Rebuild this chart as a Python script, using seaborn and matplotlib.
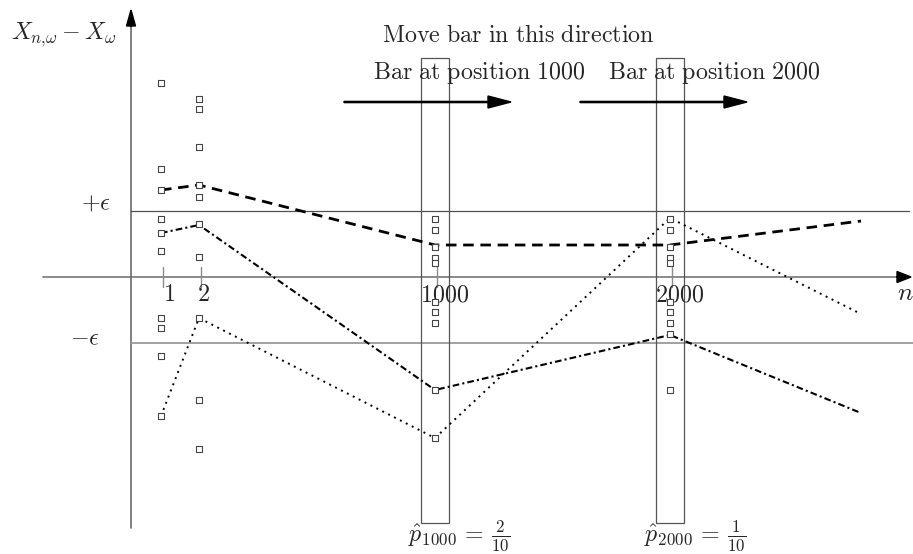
import numpy as np
import pandas as pd
import matplotlib
matplotlib.use("Agg")
import matplotlib.pyplot as plt
from matplotlib.patches import Rectangle, FancyArrow
import seaborn as sns

# ---- schematic data -------------------------------------------------------
# horizontal position of each sampled n on the (non-linear) schematic n-axis
n_labels = ["1", "2", "1000", "2000"]
n_pos = [30, 68, 304, 539]

# ten realisations of X_{n,w} - X_w at each n
samples_n1 = [194, 108, 87, 58, 44, 26, -41, -51, -79, -139]
samples_n2 = [178, 168, 130, 92, 80, 53, 20, -41, -123, -172]
samples_n1000 = [58, 47, 30, 19, 14, -25, -35, -46, -113, -161]
samples_n2000 = [58, 47, 30, 19, 14, -25, -35, -46, -57, -113]

# three sample paths followed through n = 1, 2, 1000, 2000 and beyond
path_x = [30, 68, 304, 539, 730]
path_dashed = [87, 92, 32, 32, 56]
path_dashdot = [44, 52, -113, -58, -136]
path_dotted = [-139, -41, -161, 59, -37]

eps = 66
bar_ns = ["1000", "2000"]
bar_halfwidth = 14

# ---- figure ---------------------------------------------------------------
sns.set_theme(style="white")
plt.rcParams["mathtext.fontset"] = "cm"
plt.rcParams["font.family"] = ["DejaVu Sans"]

fig = plt.figure(figsize=(9.13, 5.54), dpi=100)
ax = fig.add_axes([0, 0, 1, 1])
ax.set_xlim(-131, 782)
ax.set_ylim(-277, 277)
ax.axis("off")

FS = 17.3
axis_col = "#8a8a8a"

# coordinate axes
ax.plot([-88, 772], [0, 0], color=axis_col, lw=1.4, zorder=1)
ax.add_patch(FancyArrow(768, 0, 12, 0, width=0, head_width=11, head_length=14,
                        length_includes_head=True, color="black", zorder=3))
ax.plot([0, 0], [-251, 256], color="#6a6a6a", lw=1.2, zorder=1)
ax.add_patch(FancyArrow(0, 252, 0, 15, width=0, head_width=9, head_length=16,
                        length_includes_head=True, color="black", zorder=3))

# epsilon band
ax.plot([0, 778], [eps, eps], color="#505050", lw=0.9, zorder=1)
ax.plot([0, 782], [-eps, -eps], color="#9a9a9a", lw=1.3, zorder=1)

# ticks on the n-axis
for x in n_pos:
    ax.plot([x + 2, x + 2], [10, -10], color=axis_col, lw=1.0, zorder=1)

# sliding bars
for name in bar_ns:
    x = n_pos[n_labels.index(name)]
    ax.add_patch(Rectangle((x - bar_halfwidth, -246), 2 * bar_halfwidth, 465,
                           fill=False, edgecolor="#555555", lw=0.9, zorder=2))

# sample paths
path_df = pd.DataFrame({"n": path_x, "dashed": path_dashed,
                        "dashdot": path_dashdot, "dotted": path_dotted})
sns.lineplot(data=path_df, x="n", y="dashed", ax=ax, color="black", lw=2.0,
             linestyle=(0, (3.8, 2.4)), zorder=4)
sns.lineplot(data=path_df, x="n", y="dashdot", ax=ax, color="black", lw=1.5,
             linestyle=(0, (3.2, 1.5, 1.0, 1.5)), zorder=4)
sns.lineplot(data=path_df, x="n", y="dotted", ax=ax, color="black", lw=1.4,
             linestyle=(0, (1.0, 2.4)), zorder=4)

# realisations as open squares
all_samples = [samples_n1, samples_n2, samples_n1000, samples_n2000]
pts = pd.DataFrame({
    "n": np.repeat(n_pos, [len(s) for s in all_samples]),
    "value": np.concatenate(all_samples),
})
sns.scatterplot(data=pts, x="n", y="value", ax=ax, marker="s", s=22,
                facecolor="white", edgecolor="#454545", linewidth=0.8,
                zorder=5, legend=False)

# ---- text -----------------------------------------------------------------
ax.text(-67, 242, r"$X_{n{,}\omega} - X_{\omega}$", fontsize=FS,
        ha="center", va="center")
ax.text(-35, 74, r"$+\epsilon$", fontsize=FS, ha="center", va="center")
ax.text(-46, -61, r"$-\epsilon$", fontsize=FS, ha="center", va="center")
ax.text(774, -16, r"$n$", fontsize=FS + 1, ha="center", va="center")

label_shift = [8, 4, 10, 10]
for lab, x, dx in zip(n_labels, n_pos, label_shift):
    ax.text(x + dx, -17, rf"$\mathrm{{{lab}}}$", fontsize=FS,
            ha="center", va="center")

ax.text(387, 242, r"$\mathrm{Move\ bar\ in\ this\ direction}$", fontsize=FS,
        ha="center", va="center")
for name, cx in zip(bar_ns, [348, 583]):
    ax.text(cx, 204, rf"$\mathrm{{Bar\ at\ position\ {name}}}$", fontsize=FS,
            ha="center", va="center")

# direction arrows
for x0, x1 in [(213, 380), (449, 616)]:
    ax.add_patch(FancyArrow(x0, 175, x1 - x0, 0, width=1.2, head_width=12,
                            head_length=23, length_includes_head=True,
                            color="black", zorder=3))

# estimated probability of leaving the band at each bar
for name, cx in zip(bar_ns, [328, 564]):
    vals = np.array(all_samples[n_labels.index(name)])
    outside = int(np.sum(np.abs(vals) > eps))
    ax.text(cx, -259,
            rf"$\hat{{p}}_{{{name}}}\,=\,\frac{{{outside}}}{{{len(vals)}}}$",
            fontsize=FS, ha="center", va="center")

fig.savefig("out.png", dpi=100)
